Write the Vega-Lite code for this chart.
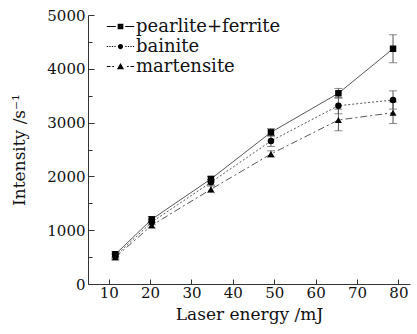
{
  "$schema": "https://vega.github.io/schema/vega-lite/v6.json",
  "width": 322,
  "height": 269,
  "autosize": "none",
  "padding": {"left": 88, "top": 15, "right": 7, "bottom": 50},
  "background": "white",
  "config": {
    "view": {"stroke": null},
    "font": "DejaVu Serif",
    "legend": {"labelFont": "DejaVu Serif", "labelFontSize": 18, "labelColor": "#111"},
    "axis": {"grid": false, "domainColor": "#333", "tickColor": "#333", "labelColor": "#111", "titleColor": "#111", "labelFont": "DejaVu Serif", "titleFont": "DejaVu Serif", "titleFontWeight": "normal"}
  },
  "data": {"values": [
    {"series": "pearlite+ferrite", "energy": 11.6, "intensity": 552, "lo": 502, "hi": 602},
    {"series": "pearlite+ferrite", "energy": 20.4, "intensity": 1202, "lo": 1152, "hi": 1252},
    {"series": "pearlite+ferrite", "energy": 34.7, "intensity": 1952, "lo": 1902, "hi": 2002},
    {"series": "pearlite+ferrite", "energy": 49.2, "intensity": 2819, "lo": 2749, "hi": 2889},
    {"series": "pearlite+ferrite", "energy": 65.5, "intensity": 3545, "lo": 3455, "hi": 3635},
    {"series": "pearlite+ferrite", "energy": 78.7, "intensity": 4373, "lo": 4113, "hi": 4633},
    {"series": "bainite", "energy": 11.6, "intensity": 520, "lo": 470, "hi": 570},
    {"series": "bainite", "energy": 20.4, "intensity": 1150, "lo": 1100, "hi": 1200},
    {"series": "bainite", "energy": 34.7, "intensity": 1890, "lo": 1840, "hi": 1940},
    {"series": "bainite", "energy": 49.2, "intensity": 2657, "lo": 2557, "hi": 2757},
    {"series": "bainite", "energy": 65.5, "intensity": 3314, "lo": 3164, "hi": 3464},
    {"series": "bainite", "energy": 78.7, "intensity": 3420, "lo": 3250, "hi": 3590},
    {"series": "martensite", "energy": 11.6, "intensity": 496, "lo": 446, "hi": 546},
    {"series": "martensite", "energy": 20.4, "intensity": 1090, "lo": 1040, "hi": 1140},
    {"series": "martensite", "energy": 34.7, "intensity": 1760, "lo": 1700, "hi": 1820},
    {"series": "martensite", "energy": 49.2, "intensity": 2416, "lo": 2356, "hi": 2476},
    {"series": "martensite", "energy": 65.5, "intensity": 3048, "lo": 2848, "hi": 3248},
    {"series": "martensite", "energy": 78.7, "intensity": 3184, "lo": 2984, "hi": 3384}
  ]},
  "encoding": {
    "x": {"field": "energy", "type": "quantitative", "scale": {"domain": [5, 82.8], "nice": false, "zero": false},
      "axis": {"values": [10, 20, 30, 40, 50, 60, 70, 80], "title": "Laser energy /mJ", "tickSize": -5, "labelPadding": 6, "labelFontSize": 15, "titleFontSize": 17, "titlePadding": 6, "labelFlush": false}},
    "y": {"field": "intensity", "type": "quantitative", "scale": {"domain": [0, 5000], "nice": false},
      "axis": {"values": [0, 500, 1000, 1500, 2000, 2500, 3000, 3500, 4000, 4500, 5000], "labelExpr": "datum.value % 1000 === 0 ? datum.value : ''", "title": "Intensity /s⁻¹", "tickSize": {"condition": {"test": "datum.value % 1000 === 0", "value": -6}, "value": -4}, "labelPadding": 9, "labelFontSize": 15, "titleFontSize": 17, "titlePadding": 18, "labelFlush": false}}
  },
  "layer": [
    {"transform": [{"filter": "datum.series === 'pearlite+ferrite'"}],
     "mark": {"type": "line", "color": "#444", "strokeWidth": 0.9}, "encoding": {}},
    {"transform": [{"filter": "datum.series === 'bainite'"}],
     "mark": {"type": "line", "color": "#444", "strokeWidth": 0.9, "strokeDash": [2, 2]}, "encoding": {}},
    {"transform": [{"filter": "datum.series === 'martensite'"}],
     "mark": {"type": "line", "color": "#444", "strokeWidth": 0.9, "strokeDash": [7, 3, 2, 3]}, "encoding": {}},
    {"mark": {"type": "rule", "color": "#555", "strokeWidth": 1},
     "encoding": {"y": {"field": "lo", "type": "quantitative"}, "y2": {"field": "hi"}}},
    {"mark": {"type": "tick", "color": "#555", "thickness": 1, "size": 8, "orient": "horizontal"},
     "encoding": {"y": {"field": "lo", "type": "quantitative"}}},
    {"mark": {"type": "tick", "color": "#555", "thickness": 1, "size": 8, "orient": "horizontal"},
     "encoding": {"y": {"field": "hi", "type": "quantitative"}}},
    {"transform": [{"filter": "datum.series === 'pearlite+ferrite'"}],
     "mark": {"type": "point", "filled": true, "color": "black", "opacity": 1, "shape": "square", "size": 42}},
    {"transform": [{"filter": "datum.series === 'bainite'"}],
     "mark": {"type": "point", "filled": true, "color": "black", "opacity": 1, "shape": "circle", "size": 42}},
    {"transform": [{"filter": "datum.series === 'martensite'"}],
     "mark": {"type": "point", "filled": true, "color": "black", "opacity": 1, "shape": "triangle-up", "size": 48}},
    {"mark": {"type": "point", "filled": true, "color": "black", "opacity": 0},
     "encoding": {"shape": {"field": "series", "type": "nominal",
       "scale": {"domain": ["pearlite+ferrite", "bainite", "martensite"],
         "range": [
           "M-1.3,-0.05H-0.45V0.05H-1.3ZM0.45,-0.05H1.3V0.05H0.45ZM-0.27,-0.27H0.27V0.27H-0.27Z",
           "M-1.3,-0.04H-1.18V0.04H-1.3ZM-1.06,-0.04H-0.94V0.04H-1.06ZM-0.82,-0.04H-0.7V0.04H-0.82ZM-0.58,-0.04H-0.46V0.04H-0.58ZM0.46,-0.04H0.58V0.04H0.46ZM0.7,-0.04H0.82V0.04H0.7ZM0.94,-0.04H1.06V0.04H0.94ZM1.18,-0.04H1.3V0.04H1.18ZM-0.25,0A0.25,0.25 0 1,0 0.25,0A0.25,0.25 0 1,0 -0.25,0Z",
           "M-1.3,-0.05H-0.95V0.05H-1.3ZM-0.78,-0.05H-0.62V0.05H-0.78ZM0.62,-0.05H0.78V0.05H0.62ZM0.95,-0.05H1.3V0.05H0.95ZM0,-0.33L0.34,0.25L-0.34,0.25Z"]},
       "legend": {"title": null, "orient": "none", "legendX": 22, "legendY": 1, "padding": 0, "symbolSize": 441, "symbolFillColor": "black", "symbolStrokeColor": "transparent", "symbolStrokeWidth": 0, "symbolOpacity": 1, "labelFontSize": 18, "labelFont": "DejaVu Serif", "labelColor": "#111", "rowPadding": 0, "labelOffset": 5, "labelLimit": 300}}}}
  ]
}
